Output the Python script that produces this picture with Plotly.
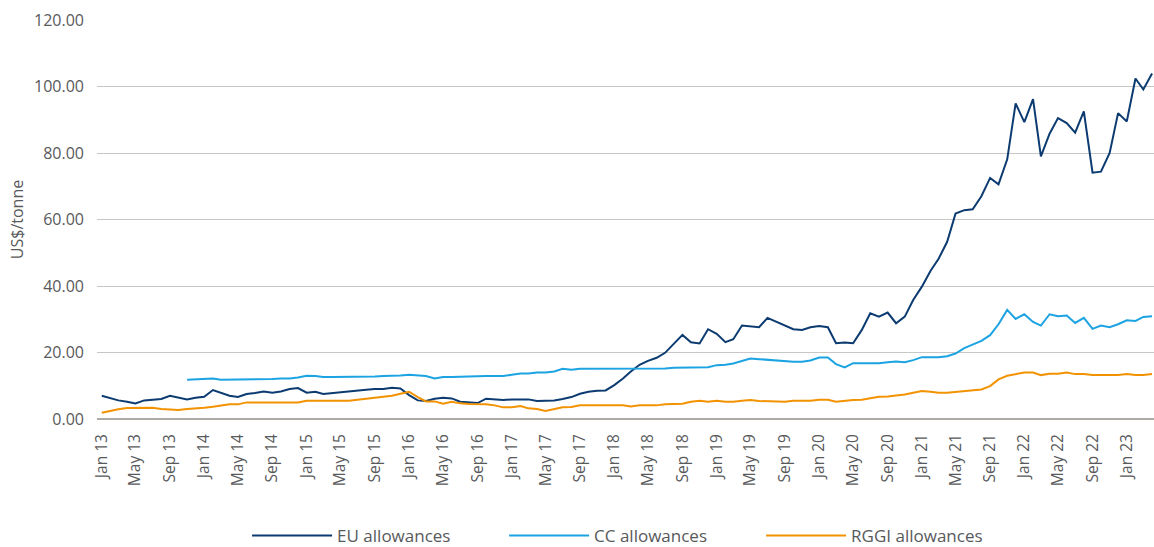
import pandas as pd
import plotly.graph_objects as go

# monthly prices, Jan 2013 - Apr 2023 (US$/tonne)
months = pd.date_range("2013-01-01", "2023-04-01", freq="MS")

eu = [
    7.0, 6.2, 5.6, 5.2, 4.7, 5.6, 5.7, 6.0, 7.0, 6.4, 5.9, 6.4,
    6.7, 8.7, 8.0, 7.0, 6.6, 7.5, 7.8, 8.3, 7.9, 8.3, 9.0, 9.3,
    7.9, 8.2, 7.5, 7.8, 8.0, 8.3, 8.6, 8.8, 9.0, 9.0, 9.4, 9.2,
    7.2, 5.6, 5.4, 6.1, 6.4, 6.2, 5.2, 5.0, 4.8, 6.1, 6.0, 5.7,
    5.9, 5.9, 5.9, 5.4, 5.5, 5.6, 6.0, 6.6, 7.6, 8.2, 8.5, 8.6,
    10.2, 12.2, 14.3, 16.3, 17.5, 18.4, 19.9, 22.6, 25.3, 23.1, 22.7, 27.0,
    25.6, 23.1, 24.0, 28.1, 27.9, 27.6, 30.4, 29.2, 28.2, 27.0, 26.8, 27.6,
    28.0, 27.6, 22.8, 23.0, 22.8, 26.8, 31.8, 30.8, 32.0, 28.8, 30.8, 35.8,
    39.8, 44.6, 48.1, 53.3, 61.8, 62.8, 63.1, 67.0, 72.5, 70.6, 78.1, 94.9,
    89.3, 96.2, 79.0, 85.8, 90.5, 89.0, 86.1, 92.5, 74.1, 74.4, 80.0, 92.0,
    89.5, 102.4, 99.1, 103.9,
]

cc = [None] * 10 + [
    11.8, 12.0,
    12.2, 12.2, 11.8, 11.8, 11.8, 11.8, 11.8, 11.8, 12.0, 12.2, 12.2, 12.5,
    13.0, 12.9, 12.6, 12.6, 12.6, 12.6, 12.6, 12.6, 12.8, 12.9, 12.9, 13.1,
    13.3, 13.0, 12.9, 12.2, 12.6, 12.6, 12.7, 12.9, 12.9, 12.9, 12.9, 12.9,
    13.3, 13.7, 13.7, 14.0, 14.0, 14.3, 15.1, 14.8, 15.1, 15.1, 15.1, 15.1,
    15.1, 15.1, 15.1, 15.1, 15.2, 15.2, 15.2, 15.4, 15.4, 15.4, 15.5, 15.6,
    16.2, 16.3, 16.7, 17.4, 18.2, 18.0, 17.8, 17.6, 17.3, 17.2, 17.2, 17.6,
    18.5, 18.5, 16.5, 15.5, 16.8, 16.8, 16.8, 16.8, 17.1, 17.3, 17.1, 17.7,
    18.6, 18.6, 18.6, 18.9, 19.7, 21.3, 22.5, 23.5, 25.2, 28.5, 32.8, 30.1,
    31.5, 29.2, 28.1, 31.5, 30.9, 31.1, 28.9, 30.4, 27.1, 28.1, 27.6, 28.5,
    29.7, 29.5, 30.7, 30.9,
]

rggi = [
    1.9, 2.5, 2.9, 3.3, 3.4, 3.4, 3.4, 3.0, 2.8, 2.7, 3.0, 3.1,
    3.4, 3.7, 4.0, 4.4, 4.4, 5.0, 5.0, 5.0, 5.0, 5.0, 5.0, 5.0,
    5.5, 5.5, 5.5, 5.5, 5.5, 5.5, 5.8, 6.1, 6.4, 6.7, 7.0, 7.6,
    8.2, 6.6, 5.3, 5.3, 4.6, 5.2, 4.7, 4.5, 4.5, 4.4, 4.1, 3.5,
    3.5, 3.9, 3.2, 3.0, 2.4, 3.0, 3.5, 3.6, 4.1, 4.1, 4.1, 3.9,
    4.1, 4.1, 3.8, 4.1, 4.1, 4.1, 4.4, 4.5, 4.6, 5.2, 5.5, 5.2,
    5.5, 5.2, 5.2, 5.5, 5.7, 5.4, 5.3, 5.2, 5.2, 5.5, 5.5, 5.5,
    5.8, 5.8, 5.2, 5.5, 5.7, 5.8, 6.2, 6.7, 6.8, 7.0, 7.4, 7.9,
    8.4, 8.2, 7.9, 7.9, 8.1, 8.4, 8.6, 8.9, 9.9, 11.9, 13.0, 13.5,
    14.0, 14.0, 13.2, 13.6, 13.6, 14.0, 13.5, 13.5, 13.2, 13.2, 13.2, 13.2,
    13.5, 13.2, 13.2, 13.5,
]

series = [
    ("EU allowances", eu, "#0b3b70"),
    ("CC allowances", cc, "#1ca3e2"),
    ("RGGI allowances", rggi, "#f39200"),
]

grey = "#58595b"

fig = go.Figure()
for name, vals, col in series:
    fig.add_trace(go.Scatter(x=months, y=vals, name=name, mode="lines",
                             line=dict(color=col, width=2)))

fig.update_layout(
    width=1154, height=547,
    margin=dict(l=97, r=0, t=20, b=128),
    plot_bgcolor="white", paper_bgcolor="white",
    font=dict(family="Open Sans", size=16, color=grey),
    showlegend=True,
    legend=dict(orientation="h", x=0.142, xanchor="left",
                yref="container", y=11 / 547, yanchor="middle",
                itemwidth=80, entrywidth=162, entrywidthmode="pixels",
                font=dict(size=17)),
)
fig.update_xaxes(
    range=["2012-12-15", "2023-04-08"], automargin=False,
    tick0="2013-01-01", dtick="M4", tickformat="%b %y", tickangle=-90,
    showgrid=False, showline=False, ticks="", ticklabelstandoff=11,
    tickfont=dict(size=15.5),
)
fig.update_yaxes(
    range=[0, 120], dtick=20, tickformat=".2f", automargin=False,
    gridcolor="#c9c7c5", gridwidth=1,
    zeroline=True, zerolinecolor="#aeaaa6", zerolinewidth=2,
    showline=False, ticks="", ticklabelstandoff=12,
    title=dict(text="US$/tonne", standoff=6, font=dict(size=16)),
)

# page body margin would shift the figure by 8px
fig.write_html("out.html", config={"displayModeBar": False},
               post_script="document.body.style.margin='0px';")
